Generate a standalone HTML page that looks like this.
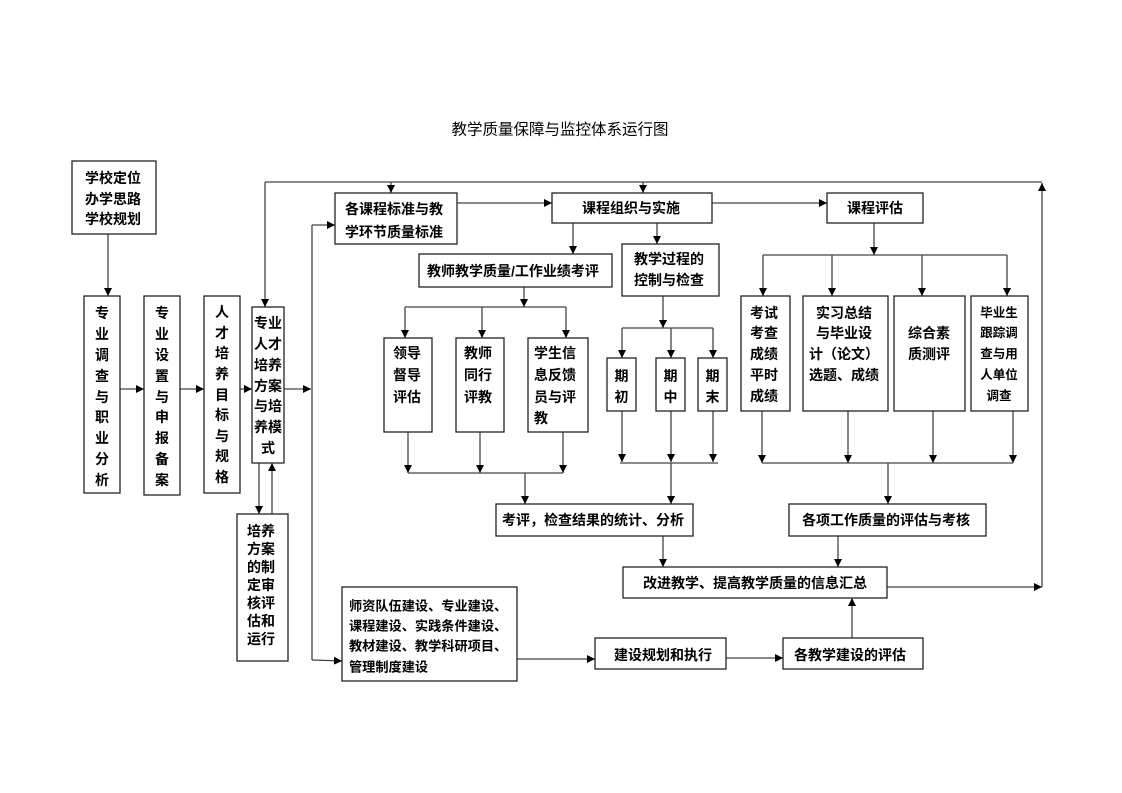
<!DOCTYPE html>
<html>
<head>
<meta charset="utf-8">
<style>
html,body{margin:0;padding:0;background:#fff;}
svg{display:block;}
text{font-family:"Liberation Sans","Noto Sans CJK SC","WenQuanYi Zen Hei",sans-serif;font-weight:bold;font-size:14px;fill:#000;dominant-baseline:central;}
.t{text-anchor:middle;}
.s{text-anchor:start;}
.box{fill:#fff;stroke:#222;stroke-width:1.3;}
.ln{fill:none;stroke:#444;stroke-width:1.3;}
.ar{fill:none;stroke:#444;stroke-width:1.3;marker-end:url(#ah);}
</style>
</head>
<body>
<svg width="1122" height="793" viewBox="0 0 1122 793" xmlns="http://www.w3.org/2000/svg">
<defs>
<marker id="ah" viewBox="0 0 10 10" refX="10" refY="5" markerWidth="8" markerHeight="8" markerUnits="userSpaceOnUse" orient="auto">
<path d="M0,0 L10,5 L0,10 z" fill="#000"/>
</marker>
</defs>

<!-- Title -->
<text x="560" y="130" class="t" style="font-weight:normal;font-size:15.5px;">教学质量保障与监控体系运行图</text>

<!-- Connectors -->
<path class="ar" d="M108 234 V296"/>
<path class="ar" d="M120 389 H144"/>
<path class="ar" d="M180 389 H204"/>
<path class="ar" d="M240 389 H252"/>
<path class="ar" d="M284 389 H311"/>

<!-- top loop -->
<path class="ln" d="M265 182 H1042"/>
<path class="ar" d="M265 182 V307"/>
<path class="ar" d="M391 182 V193"/>
<path class="ar" d="M643 182 V193"/>
<path class="ar" d="M1042 587 V183"/>
<path class="ar" d="M887 587 H1042"/>

<!-- left vertical feeder -->
<path class="ln" d="M312 225 V660"/>
<path class="ar" d="M312 225 H335"/>
<path class="ar" d="M312 660 L342 661"/>

<path class="ar" d="M457 203 H552"/>
<path class="ar" d="M712 203 H827"/>
<path class="ar" d="M573 223 V254"/>
<path class="ar" d="M657 223 V244"/>

<!-- course eval branches -->
<path class="ar" d="M874 223 V255"/>
<path class="ln" d="M763 255 H1007"/>
<path class="ar" d="M763 255 V296"/>
<path class="ar" d="M832 255 V296"/>
<path class="ar" d="M922 255 V296"/>
<path class="ar" d="M1007 255 V296"/>

<!-- teacher eval branches -->
<path class="ar" d="M524 287 V307"/>
<path class="ln" d="M405 307 H566"/>
<path class="ar" d="M405 307 V338"/>
<path class="ar" d="M482 307 V338"/>
<path class="ar" d="M566 307 V338"/>
<path class="ar" d="M408 432 V473"/>
<path class="ar" d="M480 432 V473"/>
<path class="ar" d="M563 432 V473"/>
<path class="ln" d="M408 473 H563"/>
<path class="ar" d="M525 473 V504"/>

<!-- process branches -->
<path class="ar" d="M663 296 V328"/>
<path class="ln" d="M622 328 H713"/>
<path class="ar" d="M622 328 V358"/>
<path class="ar" d="M671 328 V358"/>
<path class="ar" d="M713 328 V358"/>
<path class="ar" d="M622 411 V462"/>
<path class="ar" d="M671 411 V462"/>
<path class="ar" d="M713 411 V462"/>
<path class="ln" d="M620 463 H718"/>
<path class="ar" d="M671 463 V504"/>

<!-- eval boxes bottom -->
<path class="ar" d="M762 411 V463"/>
<path class="ar" d="M848 411 V463"/>
<path class="ar" d="M933 411 V463"/>
<path class="ar" d="M1013 411 V463"/>
<path class="ln" d="M762 463 H1013"/>
<path class="ar" d="M888 463 V504"/>

<path class="ar" d="M663 536 V567"/>
<path class="ar" d="M838 536 V567"/>

<!-- training plan loop -->
<path class="ar" d="M259 463 V514"/>
<path class="ar" d="M272 514 V463"/>

<!-- bottom chain -->
<path class="ar" d="M517 659 H595"/>
<path class="ar" d="M726 658 H783"/>
<path class="ar" d="M852 638 V598"/>

<!-- Boxes -->
<rect class="box" x="72" y="161" width="84" height="73"/>
<text class="t" x="113" y="178">学校定位</text>
<text class="t" x="113" y="199">办学思路</text>
<text class="t" x="113" y="219">学校规划</text>

<rect class="box" x="84" y="296" width="36" height="197"/>
<g class="t">
<text class="t" x="102" y="313">专</text>
<text class="t" x="102" y="334">业</text>
<text class="t" x="102" y="355">调</text>
<text class="t" x="102" y="376">查</text>
<text class="t" x="102" y="397">与</text>
<text class="t" x="102" y="417">职</text>
<text class="t" x="102" y="438">业</text>
<text class="t" x="102" y="459">分</text>
<text class="t" x="102" y="480">析</text>
</g>

<rect class="box" x="144" y="296" width="36" height="199"/>
<text class="t" x="162" y="313">专</text>
<text class="t" x="162" y="334">业</text>
<text class="t" x="162" y="355">设</text>
<text class="t" x="162" y="376">置</text>
<text class="t" x="162" y="397">与</text>
<text class="t" x="162" y="417">申</text>
<text class="t" x="162" y="438">报</text>
<text class="t" x="162" y="459">备</text>
<text class="t" x="162" y="480">案</text>

<rect class="box" x="204" y="296" width="36" height="197"/>
<text class="t" x="222" y="312">人</text>
<text class="t" x="222" y="333">才</text>
<text class="t" x="222" y="353">培</text>
<text class="t" x="222" y="374">养</text>
<text class="t" x="222" y="395">目</text>
<text class="t" x="222" y="415">标</text>
<text class="t" x="222" y="436">与</text>
<text class="t" x="222" y="456">规</text>
<text class="t" x="222" y="477">格</text>

<rect class="box" x="252" y="307" width="32" height="156"/>
<text class="t" x="268" y="323">专业</text>
<text class="t" x="268" y="344">人才</text>
<text class="t" x="268" y="365">培养</text>
<text class="t" x="268" y="386">方案</text>
<text class="t" x="268" y="406">与培</text>
<text class="t" x="268" y="427">养模</text>
<text class="t" x="268" y="448">式</text>

<rect class="box" x="237" y="514" width="51" height="147"/>
<text class="t" x="261" y="531">培养</text>
<text class="t" x="261" y="549">方案</text>
<text class="t" x="261" y="567">的制</text>
<text class="t" x="261" y="585">定审</text>
<text class="t" x="261" y="603">核评</text>
<text class="t" x="261" y="621">估和</text>
<text class="t" x="261" y="639">运行</text>

<rect class="box" x="335" y="193" width="122" height="51"/>
<text class="t" x="394" y="209">各课程标准与教</text>
<text class="t" x="394" y="232">学环节质量标准</text>

<rect class="box" x="552" y="193" width="160" height="30"/>
<text class="t" x="631" y="208">课程组织与实施</text>

<rect class="box" x="827" y="193" width="96" height="30"/>
<text class="t" x="875" y="208">课程评估</text>

<rect class="box" x="419" y="254" width="193" height="33"/>
<text class="t" x="513" y="271">教师教学质量/工作业绩考评</text>

<rect class="box" x="622" y="244" width="97" height="52"/>
<text class="t" x="669" y="259">教学过程的</text>
<text class="t" x="669" y="280">控制与检查</text>

<rect class="box" x="384" y="338" width="48" height="94"/>
<text class="t" x="407" y="353">领导</text>
<text class="t" x="407" y="375">督导</text>
<text class="t" x="407" y="397">评估</text>

<rect class="box" x="456" y="338" width="48" height="94"/>
<text class="t" x="478" y="353">教师</text>
<text class="t" x="478" y="375">同行</text>
<text class="t" x="478" y="397">评教</text>

<rect class="box" x="528" y="338" width="60" height="94"/>
<text class="s" x="534" y="353">学生信</text>
<text class="s" x="534" y="375">息反馈</text>
<text class="s" x="534" y="397">员与评</text>
<text class="s" x="534" y="418">教</text>

<rect class="box" x="607" y="358" width="29" height="53"/>
<text class="t" x="621.5" y="376">期</text>
<text class="t" x="621.5" y="397">初</text>
<rect class="box" x="656" y="358" width="29" height="53"/>
<text class="t" x="670.5" y="376">期</text>
<text class="t" x="670.5" y="397">中</text>
<rect class="box" x="698" y="358" width="29" height="53"/>
<text class="t" x="712.5" y="376">期</text>
<text class="t" x="712.5" y="397">末</text>

<rect class="box" x="741" y="296" width="49" height="115"/>
<text class="t" x="764" y="313">考试</text>
<text class="t" x="764" y="333">考查</text>
<text class="t" x="764" y="354">成绩</text>
<text class="t" x="764" y="375">平时</text>
<text class="t" x="764" y="396">成绩</text>

<rect class="box" x="803" y="296" width="85" height="115"/>
<text class="t" x="844" y="313">实习总结</text>
<text class="t" x="844" y="333">与毕业设</text>
<text class="t" x="844" y="354">计（论文）</text>
<text class="t" x="844" y="375">选题、成绩</text>

<rect class="box" x="894" y="296" width="71" height="115"/>
<text class="t" x="929" y="333">综合素</text>
<text class="t" x="929" y="354">质测评</text>

<rect class="box" x="971" y="296" width="57" height="115"/>
<text class="t" x="999" y="313" style="font-size:12.5px">毕业生</text>
<text class="t" x="999" y="333" style="font-size:12.5px">跟踪调</text>
<text class="t" x="999" y="354" style="font-size:12.5px">查与用</text>
<text class="t" x="999" y="375" style="font-size:12.5px">人单位</text>
<text class="t" x="999" y="396" style="font-size:12.5px">调查</text>

<rect class="box" x="496" y="504" width="197" height="32"/>
<text class="t" x="593" y="520">考评，检查结果的统计、分析</text>

<rect class="box" x="789" y="504" width="197" height="32"/>
<text class="t" x="886" y="520">各项工作质量的评估与考核</text>

<rect class="box" x="623" y="567" width="264" height="31"/>
<text class="t" x="755" y="583">改进教学、提高教学质量的信息汇总</text>

<rect class="box" x="342" y="587" width="175" height="94"/>
<text class="s" x="349" y="606" style="font-size:13.2px">师资队伍建设、专业建设、</text>
<text class="s" x="349" y="626" style="font-size:13.2px">课程建设、实践条件建设、</text>
<text class="s" x="349" y="646" style="font-size:13.2px">教材建设、教学科研项目、</text>
<text class="s" x="349" y="667" style="font-size:13.2px">管理制度建设</text>

<rect class="box" x="595" y="638" width="131" height="31"/>
<text class="t" x="663" y="655">建设规划和执行</text>

<rect class="box" x="783" y="638" width="140" height="31"/>
<text class="t" x="850" y="655">各教学建设的评估</text>
</svg>
</body>
</html>
